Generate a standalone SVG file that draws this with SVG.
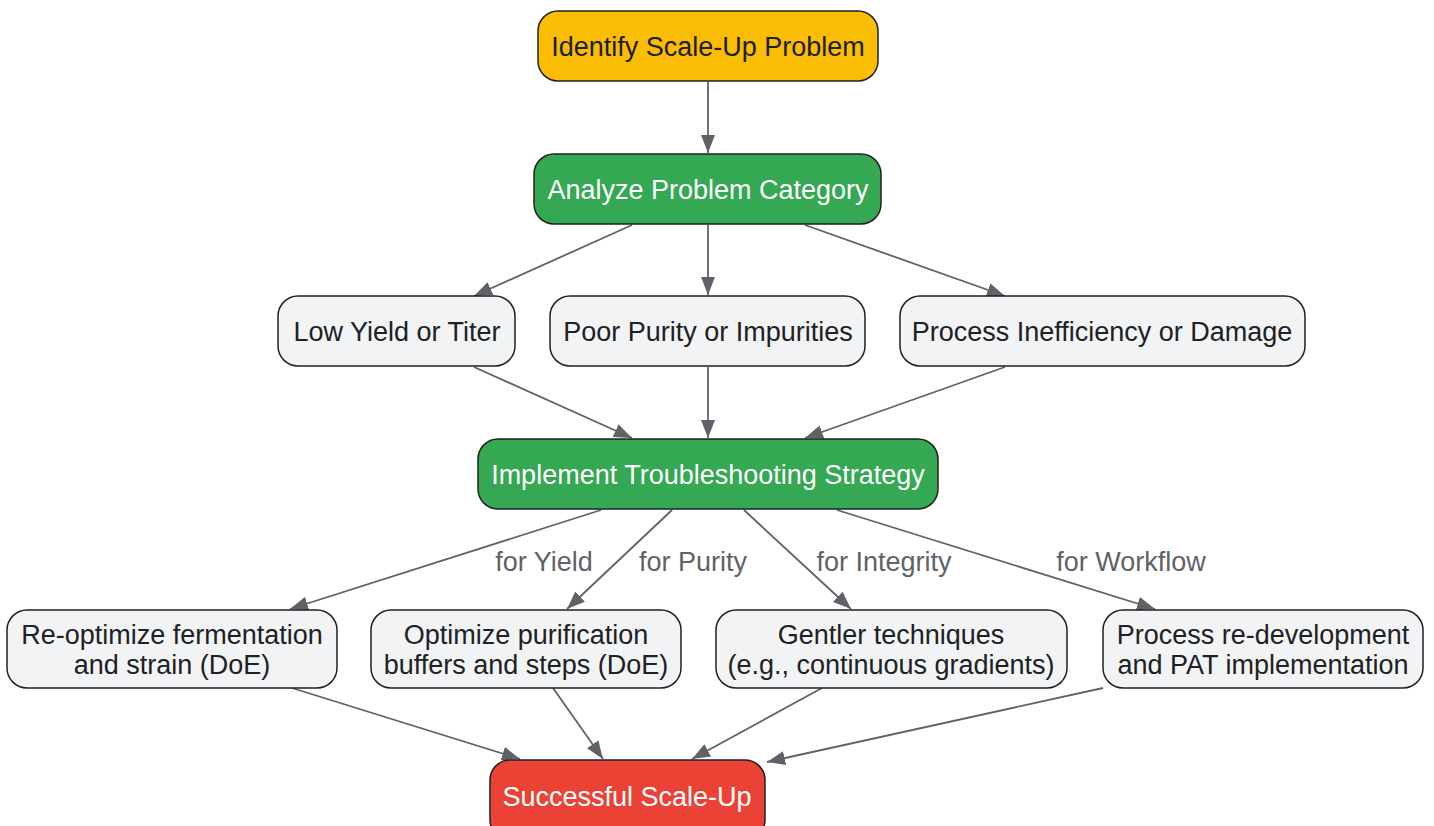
<svg xmlns="http://www.w3.org/2000/svg" width="1434" height="826" viewBox="0 0 1434 826">
<defs>
<marker id="ah" viewBox="0 0 18 14" refX="18" refY="7" markerWidth="18" markerHeight="14" markerUnits="userSpaceOnUse" orient="auto"><path d="M0,0 L18,7 L0,14 z" fill="#5F6368"/></marker>
<style>
.n rect{stroke:#202124;stroke-width:1.5}
.t{font-family:"Liberation Sans",Arial,sans-serif;font-size:27px;text-anchor:middle;dominant-baseline:central}
.dk{fill:#202124}
.wh{fill:#FFFFFF}
.e{stroke:#5F6368;stroke-width:1.8;fill:none}
.lb{font-family:"Liberation Sans",Arial,sans-serif;font-size:27px;fill:#5F6368;text-anchor:middle;dominant-baseline:central}
</style>
</defs>
<rect width="1434" height="826" fill="#FFFFFF"/>
<g id="edges">
<line class="e" x1="708" y1="82" x2="708" y2="153" marker-end="url(#ah)"/>
<line class="e" x1="632" y1="225" x2="474" y2="296" marker-end="url(#ah)"/>
<line class="e" x1="708" y1="225" x2="708" y2="295" marker-end="url(#ah)"/>
<line class="e" x1="805" y1="225" x2="1005" y2="296" marker-end="url(#ah)"/>
<line class="e" x1="474" y1="367" x2="632" y2="438" marker-end="url(#ah)"/>
<line class="e" x1="708" y1="367" x2="708" y2="438" marker-end="url(#ah)"/>
<line class="e" x1="1005" y1="367" x2="805" y2="438" marker-end="url(#ah)"/>
<line class="e" x1="601" y1="510" x2="290" y2="609" marker-end="url(#ah)"/>
<line class="e" x1="672" y1="510" x2="567" y2="609" marker-end="url(#ah)"/>
<line class="e" x1="744" y1="510" x2="851" y2="609" marker-end="url(#ah)"/>
<line class="e" x1="837" y1="510" x2="1155" y2="609" marker-end="url(#ah)"/>
<line class="e" x1="292" y1="688" x2="520" y2="759" marker-end="url(#ah)"/>
<line class="e" x1="553" y1="688" x2="603" y2="759" marker-end="url(#ah)"/>
<line class="e" x1="822" y1="688" x2="692" y2="759" marker-end="url(#ah)"/>
<line class="e" x1="1103" y1="688" x2="767" y2="762" marker-end="url(#ah)"/>
<text class="lb" x="544" y="562">for Yield</text>
<text class="lb" x="693" y="562">for Purity</text>
<text class="lb" x="884" y="562">for Integrity</text>
<text class="lb" x="1131" y="562">for Workflow</text>
</g>
<g id="n1" class="n"><rect x="538" y="11" width="340" height="70" rx="20" fill="#FBBC04"/><text class="t dk" x="708" y="47">Identify Scale-Up Problem</text></g>
<g id="n2" class="n"><rect x="534" y="154" width="347" height="70" rx="20" fill="#34A853"/><text class="t wh" x="708" y="190">Analyze Problem Category</text></g>
<g id="n3" class="n"><rect x="278" y="296" width="237" height="70" rx="20" fill="#F1F3F4"/><text class="t dk" x="397" y="332">Low Yield or Titer</text></g>
<g id="n4" class="n"><rect x="550" y="296" width="315" height="70" rx="20" fill="#F1F3F4"/><text class="t dk" x="708" y="332">Poor Purity or Impurities</text></g>
<g id="n5" class="n"><rect x="900" y="296" width="405" height="70" rx="20" fill="#F1F3F4"/><text class="t dk" x="1102" y="332">Process Inefficiency or Damage</text></g>
<g id="n6" class="n"><rect x="478" y="439" width="460" height="70" rx="20" fill="#34A853"/><text class="t wh" x="708" y="475">Implement Troubleshooting Strategy</text></g>
<g id="n7" class="n"><rect x="7" y="610" width="330" height="78" rx="20" fill="#F1F3F4"/><text class="t dk" x="172" y="635">Re-optimize fermentation</text><text class="t dk" x="172" y="665">and strain (DoE)</text></g>
<g id="n8" class="n"><rect x="371" y="610" width="310" height="78" rx="20" fill="#F1F3F4"/><text class="t dk" x="526" y="635">Optimize purification</text><text class="t dk" x="526" y="665">buffers and steps (DoE)</text></g>
<g id="n9" class="n"><rect x="716" y="610" width="351" height="78" rx="20" fill="#F1F3F4"/><text class="t dk" x="891" y="635">Gentler techniques</text><text class="t dk" x="891" y="665">(e.g., continuous gradients)</text></g>
<g id="n10" class="n"><rect x="1103" y="610" width="320" height="78" rx="20" fill="#F1F3F4"/><text class="t dk" x="1263" y="635">Process re-development</text><text class="t dk" x="1263" y="665">and PAT implementation</text></g>
<g id="n11" class="n"><rect x="490" y="760" width="275" height="80" rx="20" fill="#EA4335"/><text class="t wh" x="627" y="797">Successful Scale-Up</text></g>
</svg>
